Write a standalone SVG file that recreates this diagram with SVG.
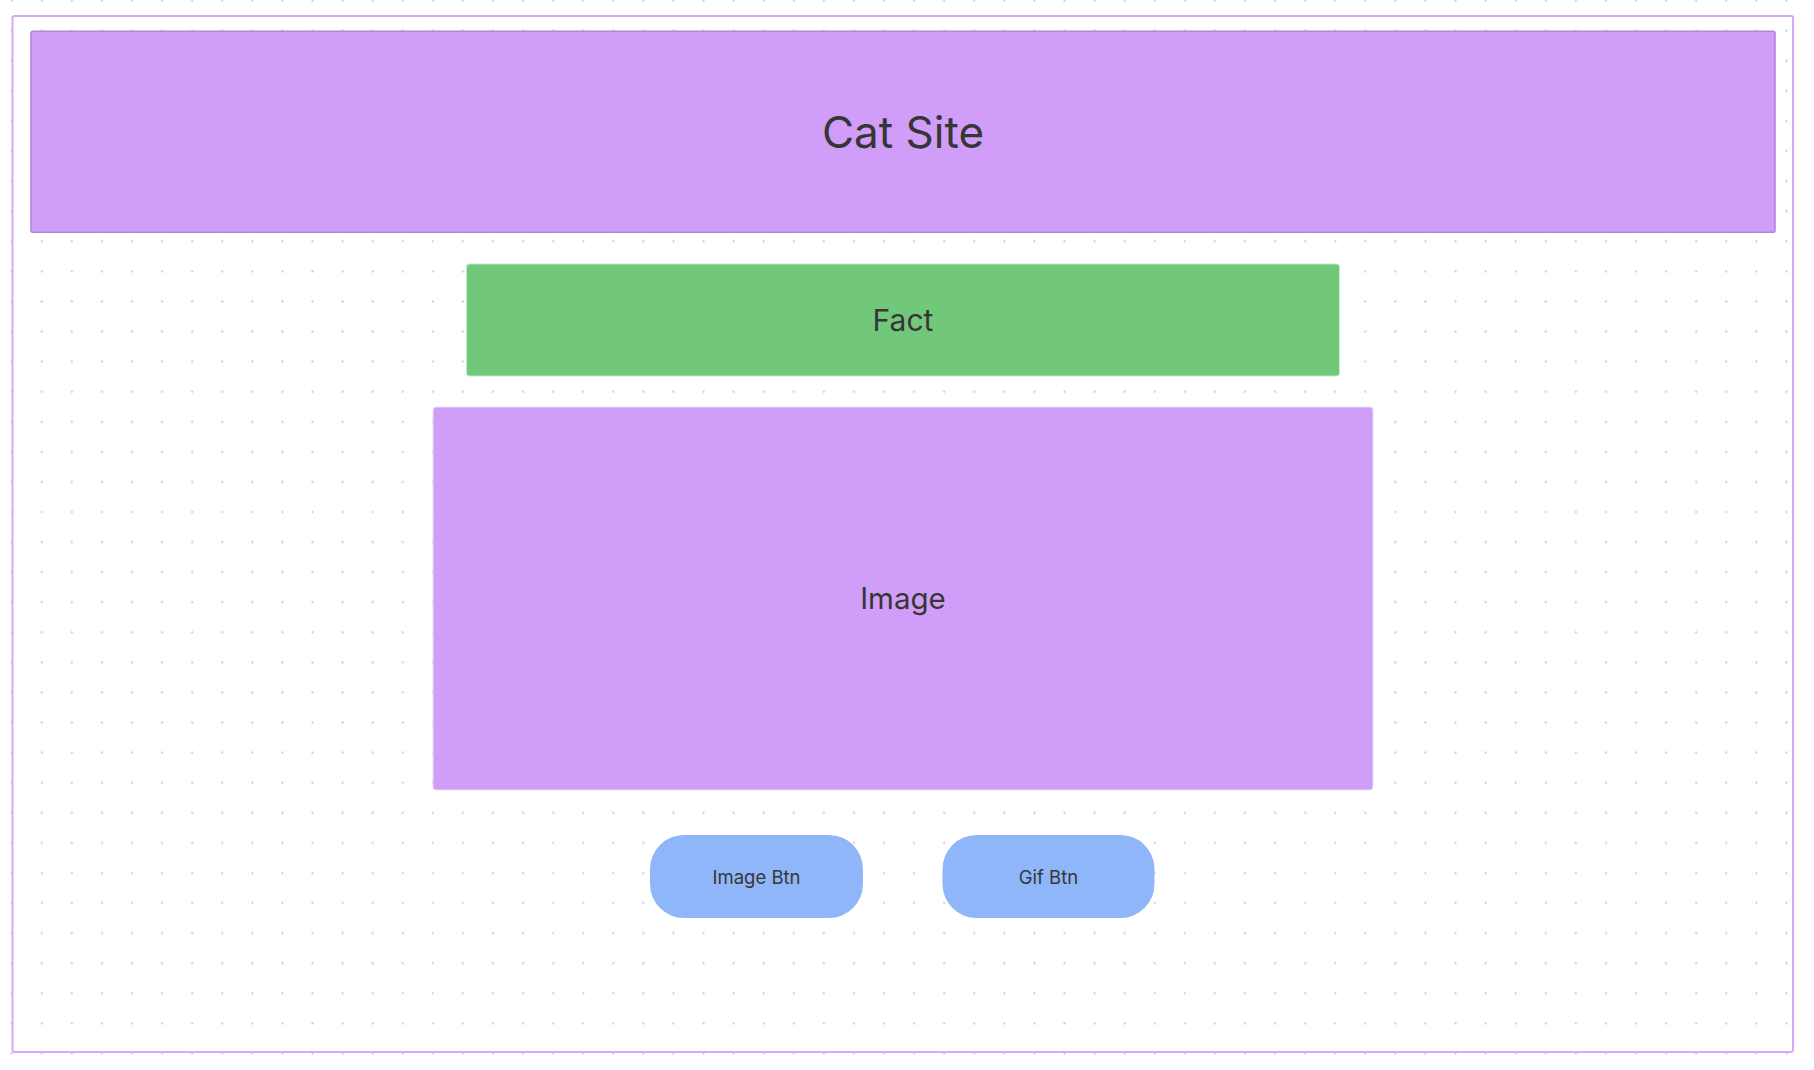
<svg xmlns="http://www.w3.org/2000/svg" width="1814" height="1070" viewBox="0 0 1814 1070">
  <style>
    .label { font-family: Inter, "Noto Sans", "Liberation Sans", sans-serif; fill: #363636; text-anchor: middle; }
    .purple { fill: #d09ef9; }
    .green { fill: #72c87a; }
    .btn { fill: #8fb6f9; }
  </style>
  <defs>
    <!-- dotted canvas grid -->
    <pattern id="dots" patternUnits="userSpaceOnUse" x="-3.34" y="-14.34" width="30.08" height="30.08">
      <circle cx="15.04" cy="15.04" r="1.1" fill="#c9c9c9"/>
    </pattern>
  </defs>

  <rect x="0" y="0" width="1814" height="1070" fill="#ffffff"/>
  <rect x="0" y="0" width="1814" height="1070" fill="url(#dots)"/>

  <!-- page frame -->
  <rect x="12.5" y="16" width="1780.5" height="1036" rx="2" fill="none" stroke="#d6a8fb" stroke-width="2"/>

  <g id="header">
    <rect class="purple" x="31" y="31.3" width="1744" height="201" rx="2" stroke="#b384d9" stroke-width="1.6"/>
    <text class="label" x="903" y="147.5" font-size="44">Cat Site</text>
  </g>

  <g id="fact">
    <rect class="green" x="466.5" y="264" width="873" height="112" rx="3" stroke="#c5ebc8" stroke-width="1"/>
    <text class="label" x="903" y="330.7" font-size="30">Fact</text>
  </g>

  <g id="image">
    <rect class="purple" x="433" y="407" width="940" height="383" rx="3" stroke="#ecdcfb" stroke-width="1"/>
    <text class="label" x="903" y="608.5" font-size="29.5">Image</text>
  </g>

  <g id="image-btn">
    <rect class="btn" x="650" y="835" width="213" height="83" rx="34"/>
    <text class="label" x="756.5" y="883.5" font-size="18.5">Image Btn</text>
  </g>

  <g id="gif-btn">
    <rect class="btn" x="942.5" y="835" width="212" height="83" rx="34"/>
    <text class="label" x="1048.5" y="883.5" font-size="18.5">Gif Btn</text>
  </g>

  <g id="connectors"></g>
</svg>
